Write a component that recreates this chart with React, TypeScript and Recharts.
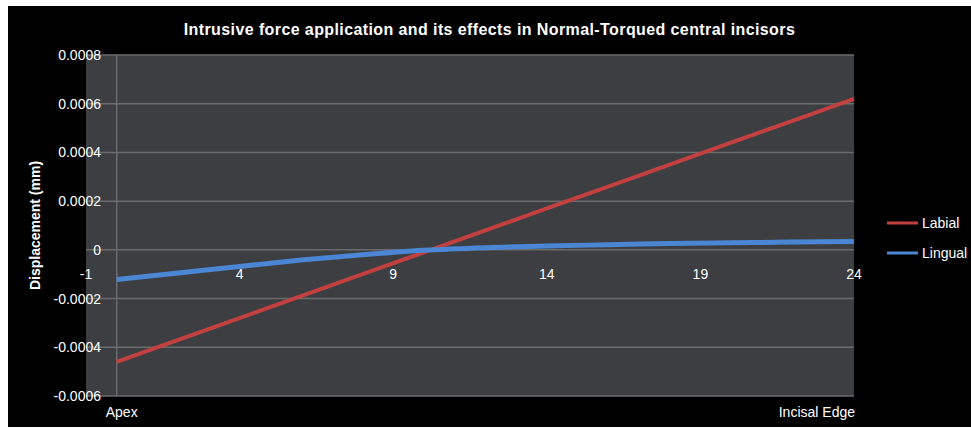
import {
  LineChart,
  Line,
  XAxis,
  YAxis,
  CartesianGrid,
  Legend,
  ReferenceLine,
  ReferenceDot,
} from 'recharts';

// Position along the tooth (apex = 0, incisal edge = 24)
const positions = [0, 2, 4, 6, 8, 10, 12, 14, 16, 18, 20, 22, 24];

// Displacement (mm) for each surface
const labialValues = [
  -0.00046, -0.00037, -0.00028, -0.00019, -0.0001, -0.00001, 0.00008, 0.00017,
  0.00026, 0.00035, 0.00044, 0.00053, 0.00062,
];
const lingualValues = [
  -0.000122, -0.000095, -0.000068, -0.000042, -0.00002, -0.000002, 0.000009,
  0.000016, 0.000021, 0.000026, 0.000029, 0.000032, 0.000034,
];

const xTickValues = [-1, 4, 9, 14, 19, 24];
const yTickValues = [-0.0006, -0.0004, -0.0002, 0, 0.0002, 0.0004, 0.0006, 0.0008];
const endTicks = [0, 24];
const endTickLabels = ['Apex', 'Incisal Edge'];

const data = positions.map((x, i) => ({
  x,
  labial: labialValues[i],
  lingual: lingualValues[i],
}));

const FONT = '"Liberation Sans", Arial, sans-serif';
const GRID = '#6a6b6d';

const YTick = (props: any) => {
  const { x, y, payload } = props;
  const v = payload.value;
  const text = Math.abs(v) < 1e-12 ? '0' : v.toFixed(4);
  return (
    <text x={x + 15} y={y} dy={5} textAnchor="end" fill="#fff" fontSize={14} fontFamily={FONT}>
      {text}
    </text>
  );
};

const EndTick = (props: any) => {
  const { x, y, payload } = props;
  const idx = endTicks.indexOf(payload.value);
  const isLast = idx === endTicks.length - 1;
  return (
    <text
      x={isLast ? x + 1 : x + 5}
      y={y}
      dy={13}
      textAnchor={isLast ? 'end' : 'middle'}
      fill="#fff"
      fontSize={14}
      fontFamily={FONT}
    >
      {endTickLabels[idx]}
    </text>
  );
};

const LegendContent = (props: any) => {
  const { payload } = props;
  return (
    <div style={{ fontFamily: FONT, fontSize: 14, color: '#fff', whiteSpace: 'nowrap' }}>
      {(payload || []).map((entry: any) => (
        <div key={entry.value} style={{ display: 'flex', alignItems: 'center', height: 30 }}>
          <svg width={35} height={6}>
            <line x1={0} y1={3} x2={31} y2={3} stroke={entry.color} strokeWidth={3} />
          </svg>
          <span>{entry.value}</span>
        </div>
      ))}
    </div>
  );
};

export default function App() {
  return (
    <div
      style={{
        position: 'absolute',
        left: 8,
        top: 6,
        width: 963,
        height: 421,
        background: '#000',
      }}
    >
      <div
        style={{
          position: 'absolute',
          top: 14,
          left: 0,
          width: '100%',
          textAlign: 'center',
          color: '#fff',
          fontFamily: FONT,
          fontWeight: 'bold',
          fontSize: 16,
          letterSpacing: 0.4,
          lineHeight: '20px',
        }}
      >
        Intrusive force application and its effects in Normal-Torqued central incisors
      </div>
      <LineChart
        width={963}
        height={421}
        data={data}
        margin={{ top: 49, right: 25, bottom: 0, left: 0 }}
      >
        <CartesianGrid vertical={false} stroke={GRID} strokeWidth={1.5} fill="#3c3e41" />
        <XAxis
          dataKey="x"
          type="number"
          domain={[-1, 24]}
          ticks={endTicks}
          height={31}
          axisLine={false}
          tickLine={false}
          tick={<EndTick />}
          interval={0}
        />
        <YAxis
          type="number"
          domain={[-0.0006, 0.0008]}
          ticks={yTickValues}
          width={78}
          axisLine={false}
          tickLine={false}
          tickSize={0}
          tickMargin={0}
          tick={<YTick />}
          interval={0}
          label={{
            value: 'Displacement (mm)',
            angle: -90,
            position: 'insideLeft',
            offset: 27,
            fill: '#fff',
            fontSize: 14,
            fontWeight: 'bold',
            fontFamily: FONT,
            style: { textAnchor: 'middle' },
          }}
        />
        <ReferenceLine x={0} stroke={GRID} strokeWidth={1.5} />
        {xTickValues.map((t) => (
          <ReferenceDot
            key={t}
            x={t}
            y={0}
            r={0}
            fill="none"
            stroke="none"
            label={{
              value: String(t),
              position: 'bottom',
              offset: 19,
              fill: '#fff',
              fontSize: 14,
              fontFamily: FONT,
            }}
          />
        ))}
        <Legend
          layout="vertical"
          align="right"
          verticalAlign="top"
          content={<LegendContent />}
          wrapperStyle={{ left: 879, top: 202, width: 92 }}
        />
        <Line
          type="linear"
          dataKey="labial"
          name="Labial"
          stroke="#c2403f"
          strokeWidth={4}
          dot={false}
          isAnimationActive={false}
        />
        <Line
          type="monotone"
          dataKey="lingual"
          name="Lingual"
          stroke="#4a86d3"
          strokeWidth={5}
          dot={false}
          isAnimationActive={false}
        />
      </LineChart>
    </div>
  );
}
